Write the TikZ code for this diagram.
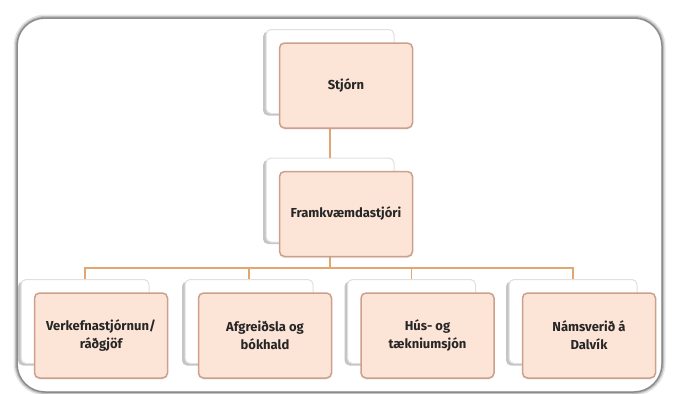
\documentclass[tikz,border=0pt]{standalone}
\usepackage{fontspec}
\setmainfont{Fira Sans}
\usetikzlibrary{shadows}

\definecolor{peach}{RGB}{252,228,214}
\definecolor{peachline}{RGB}{204,160,140}
\definecolor{linkline}{RGB}{228,166,112}

\begin{document}
\begin{tikzpicture} [
  y=-1pt,
  x=1pt,
  unit/.style={draw=peachline, fill=peach, line width=1.5pt, rounded corners=5pt,
    minimum width=133pt, minimum height=85pt, align=center,
    font=\bfseries\fontsize{13}{18}\selectfont, text=black!85,
    drop shadow={shadow xshift=0pt, shadow yshift=-1.5pt, opacity=0.15}},
  unitbg/.style={draw=black!12, fill=white, line width=1pt, rounded corners=5pt,
    minimum width=128pt, minimum height=84pt,
    drop shadow={shadow xshift=-3pt, shadow yshift=-2pt, opacity=0.45}},
  link/.style={draw=linkline, line width=1.6pt}
  ]
  \useasboundingbox (0,0) rectangle (673,394);

  % frame
  \draw[black!10, line width=7pt, rounded corners=28pt] (17,18) rectangle (662,392);
  \draw[black!25, line width=4pt, rounded corners=28pt] (17,18) rectangle (662,392);
  \draw[black!45, line width=1.5pt, rounded corners=28pt] (17,18) rectangle (662,392);
  \fill[white, rounded corners=27pt] (18,19) rectangle (661,391);

  \node(stjorn-bg)[unitbg, at={(330,71.5)}]{};
  \node(framk-bg)[unitbg, at={(330,200)}]{};
  \node(verk-bg)[unitbg, at={(85,321.5)}]{};
  \node(afgr-bg)[unitbg, at={(249,321.5)}]{};
  \node(hus-bg)[unitbg, at={(411.5,321.5)}]{};
  \node(dalvik-bg)[unitbg, at={(573,321.5)}]{};

  \coordinate(bus) at (330,268);
  \draw[link] (stjorn-bg.south) -- (framk-bg.north);
  \draw[link] (framk-bg.south) -- (bus);
  \draw[link] (bus) -| (verk-bg.north);
  \draw[link] (bus) -| (afgr-bg.north);
  \draw[link] (bus) -| (hus-bg.north);
  \draw[link] (bus) -| (dalvik-bg.north);

  \node(stjorn)[unit, at={(346,85.5)}]{Stjórn};
  \node(framk)[unit, at={(346,214)}]{Framkvæmdastjóri};
  \node(verk)[unit, at={(101,335.5)}]{Verkefnastjórnun/\\ráðgjöf};
  \node(afgr)[unit, at={(265,335.5)}]{Afgreiðsla og\\bókhald};
  \node(hus)[unit, at={(427.5,335.5)}]{Hús- og\\tækniumsjón};
  \node(dalvik)[unit, at={(589,335.5)}]{Námsverið á\\Dalvík};
\end{tikzpicture}
\end{document}
